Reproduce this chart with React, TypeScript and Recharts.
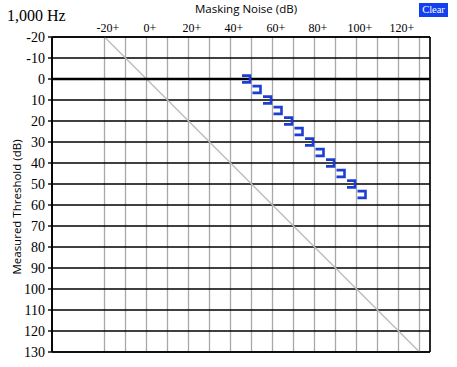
import React from "react";
import {
  ScatterChart,
  Scatter,
  XAxis,
  YAxis,
  CartesianGrid,
  ReferenceLine,
} from "recharts";

const yTicks = [-20, -10, 0, 10, 20, 30, 40, 50, 60, 70, 80, 90, 100, 110, 120, 130];
const xGridTicks = [-20, -10, 0, 10, 20, 30, 40, 50, 60, 70, 80, 90, 100, 110, 120, 130];
const xLabelTicks = [-20, 0, 20, 40, 60, 80, 100, 120];
const maskingNoise = [50, 55, 60, 65, 70, 75, 80, 85, 90, 95, 100, 105];
const measuredThreshold = [0, 5, 10, 15, 20, 25, 30, 35, 40, 45, 50, 55];
const diagonalStart = { x: -20, y: -20 };
const diagonalEnd = { x: 130, y: 130 };

const points = maskingNoise.map((x, i) => ({ x, y: measuredThreshold[i] }));

const BLUE = "#1c3fd2";

const XTick = (props: any) => {
  const { x, payload } = props;
  const v = Number(payload && payload.value);
  if (!xLabelTicks.includes(v)) return <g />;
  return (
    <text
      x={x + 3.4}
      y={31.5}
      textAnchor="middle"
      fontFamily="'Liberation Serif', 'Times New Roman', serif"
      fontSize={12}
      fill="#000"
    >
      {`${v}+`}
    </text>
  );
};

const Bracket = (props: any) => {
  const { cx, cy } = props;
  if (cx == null || cy == null) return null;
  const d = `M ${cx - 9.5} ${cy - 3.4} H ${cx - 1.5} V ${cy + 3.4} H ${cx - 9.5}`;
  return <path d={d} stroke={BLUE} strokeWidth={2.6} fill="none" />;
};

export default function App() {
  return (
    <div style={{ position: "absolute", left: 0, top: 0, width: 457, height: 367, background: "#fff" }}>
      <div
        style={{
          position: "absolute",
          left: 7,
          top: 6,
          fontFamily: "'Liberation Serif', 'Times New Roman', serif",
          fontSize: 16,
          lineHeight: "20px",
          color: "#000",
          whiteSpace: "nowrap",
        }}
      >
        1,000 Hz
      </div>
      <div
        style={{
          position: "absolute",
          left: 146,
          width: 200,
          top: 1,
          textAlign: "center",
          fontFamily: "'Open Sans', sans-serif",
          fontSize: 11.5,
          lineHeight: "16px",
          color: "#000",
        }}
      >
        Masking Noise (dB)
      </div>
      <div
        style={{
          position: "absolute",
          left: 419,
          top: 3,
          width: 29,
          height: 14,
          background: "#1040f0",
          color: "#fff",
          fontFamily: "'Liberation Serif', serif",
          fontSize: 10.5,
          lineHeight: "14px",
          textAlign: "center",
        }}
      >
        Clear
      </div>
      <div
        style={{
          position: "absolute",
          left: 17,
          top: 207,
          width: 0,
          height: 0,
        }}
      >
        <div
          style={{
            position: "absolute",
            left: -100,
            top: -8,
            width: 200,
            textAlign: "center",
            transform: "rotate(-90deg)",
            fontFamily: "'Open Sans', sans-serif",
            fontSize: 11.5,
            lineHeight: "16px",
            color: "#000",
            whiteSpace: "nowrap",
          }}
        >
          Measured Threshold (dB)
        </div>
      </div>
      <div style={{ position: "absolute", left: 0, top: 0 }}>
        <ScatterChart width={457} height={367} margin={{ top: 17, right: 27, bottom: 15, left: 0 }}>
          <CartesianGrid horizontal={false} vertical={true} stroke="#a8a8a8" strokeWidth={1.3} />
          <CartesianGrid horizontal={true} vertical={false} stroke="#000" strokeWidth={1.4} />
          <XAxis
            type="number"
            dataKey="x"
            orientation="top"
            domain={[-45, 135]}
            ticks={xGridTicks}
            interval={0}
            height={20}
            tick={XTick}
            tickLine={false}
            axisLine={false}
            allowDataOverflow
          />
          <YAxis
            type="number"
            dataKey="y"
            domain={[-20, 130]}
            reversed
            ticks={yTicks}
            interval={0}
            width={52}
            tickSize={4}
            tickMargin={3}
            tickLine={{ stroke: "#000", strokeWidth: 1.4 }}
            axisLine={{ stroke: "#000", strokeWidth: 1.6 }}
            tick={{ fill: "#000", fontSize: 14, fontFamily: "'Liberation Serif', 'Times New Roman', serif" }}
            allowDataOverflow
          />
          <ReferenceLine
            segment={[diagonalStart, diagonalEnd]}
            stroke="#bdbdbd"
            strokeWidth={1.5}
            ifOverflow="visible"
          />
          <ReferenceLine y={0} stroke="#000" strokeWidth={2.4} />
          <ReferenceLine y={-20} stroke="#000" strokeWidth={1.6} />
          <ReferenceLine y={130} stroke="#000" strokeWidth={1.6} />
          <ReferenceLine x={135} stroke="#000" strokeWidth={1.6} />
          <ReferenceLine x={-45} stroke="#000" strokeWidth={1.6} />
          <Scatter data={points} shape={<Bracket />} isAnimationActive={false} />
        </ScatterChart>
      </div>
    </div>
  );
}
